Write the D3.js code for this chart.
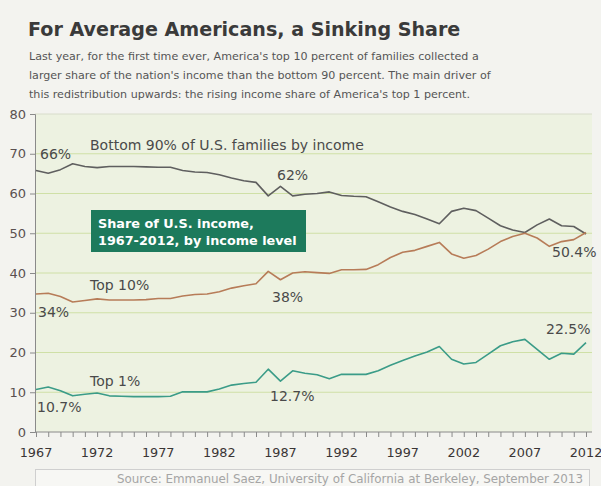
<!DOCTYPE html>
<html>
<head>
<meta charset="utf-8">
<script src="https://cdn.jsdelivr.net/npm/d3@7"></script>
<style>
  body { margin: 0; background: #f3f3ef; }
  svg { display: block; font-family: "DejaVu Sans", Verdana, sans-serif; }
</style>
</head>
<body>
<div id="chart"></div>
<script>
const years = d3.range(1967, 2013);
const bottom90 = [65.8,65.1,66.0,67.5,66.8,66.5,66.8,66.8,66.8,66.7,
                  66.6,66.6,65.8,65.4,65.3,64.7,63.9,63.2,62.8,59.4,
                  61.8,59.4,59.8,60.0,60.4,59.5,59.3,59.2,57.9,56.6,
                  55.5,54.7,53.6,52.4,55.5,56.3,55.7,53.8,51.9,50.8,
                  50.2,52.1,53.6,51.9,51.7,49.8];
const top10 = [34.7,34.9,34.1,32.7,33.1,33.5,33.2,33.2,33.2,33.3,
               33.6,33.6,34.2,34.6,34.7,35.3,36.2,36.8,37.3,40.4,
               38.3,40.0,40.3,40.1,39.9,40.8,40.8,40.9,42.1,43.9,
               45.2,45.7,46.7,47.7,44.8,43.7,44.4,46.0,47.9,49.2,
               50.0,48.8,46.7,47.9,48.4,50.2];
const top1 = [10.7,11.3,10.4,9.1,9.5,9.8,9.1,9.0,8.9,8.9,
              8.9,9.0,10.1,10.1,10.1,10.8,11.8,12.2,12.5,15.8,
              12.8,15.4,14.8,14.4,13.4,14.5,14.5,14.5,15.4,16.8,
              18.0,19.1,20.1,21.5,18.3,17.1,17.5,19.6,21.7,22.7,
              23.3,20.8,18.3,19.8,19.6,22.5];
const yTicks = [0,10,20,30,40,50,60,70,80];
const xLabelYears = [1967,1972,1977,1982,1987,1992,1997,2002,2007,2012];

const W = 601, H = 486;
const svg = d3.select('#chart').append('svg').attr('width', W).attr('height', H);

svg.append('rect').attr('width', W).attr('height', H).attr('fill', '#f3f3ef');

// titles
svg.append('text').attr('x', 28).attr('y', 36)
  .attr('font-size', 19.1).attr('font-weight', 'bold').attr('fill', '#3a3a3a')
  .text('For Average Americans, a Sinking Share');
const sub = [
  "Last year, for the first time ever, America's top 10 percent of families collected a",
  "larger share of the nation's income than the bottom 90 percent. The main driver of",
  "this redistribution upwards: the rising income share of America's top 1 percent."
];
svg.selectAll('text.sub').data(sub).enter().append('text')
  .attr('class', 'sub')
  .attr('x', 29).attr('y', (d, i) => 60 + i * 19)
  .attr('font-size', 11.1).attr('fill', '#555')
  .text(d => d);

const pLeft = 35, pRight = 592, pTop = 114, pBottom = 432;
const x = d3.scaleLinear().domain([1967, 2012]).range([36, 586]);
const y = d3.scaleLinear().domain([0, 80]).range([pBottom, pTop]);

svg.append('rect').attr('x', pLeft).attr('y', pTop)
  .attr('width', pRight - pLeft).attr('height', pBottom - pTop)
  .attr('fill', '#edf2e1');

// grid
svg.append('g').selectAll('line').data(yTicks.filter(d => d > 0)).enter().append('line')
  .attr('x1', pLeft).attr('x2', pRight)
  .attr('y1', d => y(d)).attr('y2', d => y(d))
  .attr('stroke', d => d === 80 ? '#d8dccb' : '#cfe0a6')
  .attr('stroke-width', 1);

// y axis
const gy = svg.append('g').attr('transform', `translate(${pLeft},0)`)
  .call(d3.axisLeft(y).tickValues(yTicks).tickSize(5).tickPadding(4));
gy.select('.domain').attr('stroke', '#8a8a8a');
gy.selectAll('.tick line').attr('stroke', '#8a8a8a');
gy.selectAll('.tick text').attr('font-size', 13).attr('fill', '#5a5050')
  .attr('font-family', '"DejaVu Sans", sans-serif');

// x axis
const gx = svg.append('g').attr('transform', `translate(0,${pBottom})`)
  .call(d3.axisBottom(x).tickValues(years).tickSize(5).tickFormat(''));
gx.select('.domain').attr('d', `M${pLeft},0H${pRight}`).attr('stroke', '#8a8a8a');
gx.selectAll('.tick line').attr('stroke', '#8a8a8a');
svg.append('g').selectAll('text').data(xLabelYears).enter().append('text')
  .attr('x', d => x(d)).attr('y', 457)
  .attr('text-anchor', 'middle').attr('font-size', 12.8).attr('fill', '#3a3535')
  .text(d => d);

// lines
const series = [
  {values: bottom90, color: '#5f5f5f'},
  {values: top10, color: '#b77c58'},
  {values: top1, color: '#3b9c88'}
];
const line = d3.line().x((d, i) => x(years[i])).y(d => y(d));
svg.append('g').selectAll('path').data(series).enter().append('path')
  .attr('d', d => line(d.values))
  .attr('fill', 'none').attr('stroke', d => d.color)
  .attr('stroke-width', 1.6).attr('stroke-linejoin', 'round');

// labels
const labels = [
  {t: 'Bottom 90% of U.S. families by income', x: 90, y: 150},
  {t: '66%', x: 40, y: 159},
  {t: '62%', x: 277, y: 180},
  {t: 'Top 10%', x: 90, y: 290},
  {t: '38%', x: 272, y: 302},
  {t: '34%', x: 38, y: 317},
  {t: 'Top 1%', x: 90, y: 386},
  {t: '10.7%', x: 37, y: 412},
  {t: '12.7%', x: 270, y: 401},
  {t: '22.5%', x: 546, y: 334},
  {t: '50.4%', x: 552, y: 257}
];
svg.append('g').selectAll('text').data(labels).enter().append('text')
  .attr('x', d => d.x).attr('y', d => d.y)
  .attr('font-size', 14).attr('fill', '#4a4a4a')
  .text(d => d.t);

// box
svg.append('rect').attr('x', 91).attr('y', 210).attr('width', 215).attr('height', 42)
  .attr('fill', '#1d7a5c');
svg.append('text').attr('x', 98).attr('y', 228)
  .attr('font-size', 12.8).attr('font-weight', 'bold').attr('fill', '#fff')
  .text('Share of U.S. income,');
svg.append('text').attr('x', 98).attr('y', 245)
  .attr('font-size', 12.8).attr('font-weight', 'bold').attr('fill', '#fff')
  .text('1967-2012, by income level');

// source
svg.append('rect').attr('x', 35.5).attr('y', 469.5).attr('width', 554).attr('height', 22)
  .attr('fill', '#f7f7f4').attr('stroke', '#cfcfcf');
svg.append('text').attr('x', 583).attr('y', 483).attr('text-anchor', 'end')
  .attr('font-size', 11.9).attr('fill', '#a5a5a5')
  .text('Source: Emmanuel Saez, University of California at Berkeley, September 2013');
</script>
</body>
</html>
